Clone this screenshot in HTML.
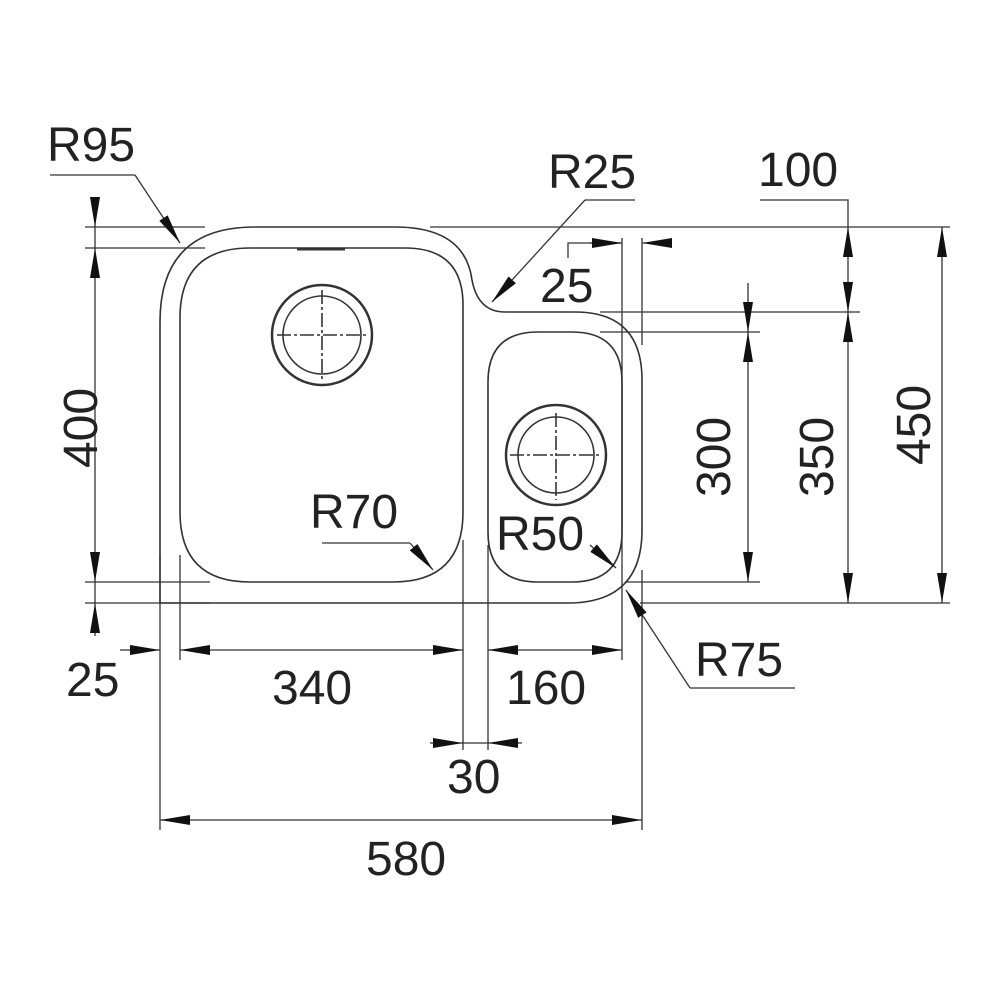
<!DOCTYPE html><html><head><style>body{margin:0;background:#fff}svg{display:block}text{font-family:"Liberation Sans",sans-serif;font-size:48px;fill:#222}</style></head><body>
<svg width="1000" height="1000" viewBox="0 0 1000 1000">
<defs><marker id="a" viewBox="0 0 30 10" refX="30" refY="5" markerWidth="30" markerHeight="10" markerUnits="userSpaceOnUse" orient="auto"><path d="M0,0L30,5L0,10z" fill="#111"/></marker>
<marker id="b" viewBox="0 0 30 10" refX="0" refY="5" markerWidth="30" markerHeight="10" markerUnits="userSpaceOnUse" orient="auto"><path d="M30,0L0,5L30,10z" fill="#111"/></marker></defs>
<g fill="none" stroke="#333" stroke-width="1.6">
<path d="M160,603 L160,322 Q160,227 255,227 L395,227 Q465,227 472,280 Q478,312 505,312 L575,312 Q642,312 642,380 L642,530 Q642,603 568,603 Z"/>
<path d="M180,318 Q180,248 250,248 L405,248 Q463,248 463,305 L463,512 Q463,582 393,582 L250,582 Q180,582 180,512 Z"/>
<path d="M488,382 Q488,332 538,332 L572,332 Q622,332 622,382 L622,532 Q622,582 572,582 L538,582 Q488,582 488,532 Z"/>
<path d="M297,249 L345,249" stroke-width="3"/>
<circle cx="322" cy="335" r="50" stroke-width="2.5"/><circle cx="322" cy="335" r="39"/>
<circle cx="556" cy="455" r="50" stroke-width="2.5"/><circle cx="556" cy="455" r="38"/>
<path d="M277,335H367M322,290V380M510,455H602M556,413V500" stroke-dasharray="14,3,3,3"/>
</g>
<g fill="none" stroke="#333" stroke-width="1.3">
<path d="M85,227H205M85,248H205M85,582H210M85,603H210M430,227H950M600,312H860M600,332H760M625,582H760M640,603H950"/>
<path d="M160,555V830M180,555V660M463,540V750M488,545V750M622,238V660M642,238V345M642,570V830"/>
<line x1="95" y1="197" x2="95" y2="227" marker-end="url(#a)"/>
<line x1="95" y1="248" x2="95" y2="582" marker-start="url(#b)" marker-end="url(#a)"/>
<line x1="95" y1="636" x2="95" y2="603" marker-end="url(#a)"/>
<line x1="95" y1="227" x2="95" y2="248"/><line x1="95" y1="582" x2="95" y2="603"/>
<line x1="120" y1="650" x2="160" y2="650" marker-end="url(#a)"/>
<line x1="180" y1="650" x2="463" y2="650" marker-start="url(#b)" marker-end="url(#a)"/>
<line x1="488" y1="650" x2="622" y2="650" marker-start="url(#b)" marker-end="url(#a)"/>
<line x1="430" y1="743" x2="463" y2="743" marker-end="url(#a)"/>
<line x1="522" y1="743" x2="488" y2="743" marker-end="url(#a)"/>
<line x1="463" y1="743" x2="488" y2="743"/>
<line x1="160" y1="820" x2="642" y2="820" marker-start="url(#b)" marker-end="url(#a)"/>
<path d="M568,258V243H622"/>
<line x1="590" y1="243" x2="622" y2="243" marker-end="url(#a)"/>
<line x1="672" y1="243" x2="642" y2="243" marker-end="url(#a)"/>
<line x1="748" y1="283" x2="748" y2="332" marker-end="url(#a)"/>
<line x1="748" y1="332" x2="748" y2="582" marker-start="url(#b)" marker-end="url(#a)"/>
<path d="M760,200H848V227"/>
<line x1="848" y1="227" x2="848" y2="312" marker-start="url(#b)" marker-end="url(#a)"/>
<line x1="848" y1="312" x2="848" y2="603" marker-start="url(#b)" marker-end="url(#a)"/>
<line x1="942" y1="227" x2="942" y2="603" marker-start="url(#b)" marker-end="url(#a)"/>
<path d="M50,175H135"/><line x1="135" y1="175" x2="180" y2="243" marker-end="url(#a)"/>
<path d="M635,200H585"/><line x1="585" y1="200" x2="492" y2="302" marker-end="url(#a)"/>
<path d="M322,543H410"/><line x1="410" y1="543" x2="433" y2="570" marker-end="url(#a)"/>
<line x1="590" y1="545" x2="616" y2="568" marker-end="url(#a)"/>
<path d="M795,688H690"/><line x1="690" y1="688" x2="626" y2="590" marker-end="url(#a)"/>
</g>
<text x="47" y="161">R95</text><text x="548" y="188">R25</text><text x="758" y="186">100</text>
<text x="540" y="302">25</text><text x="310" y="528">R70</text><text x="496" y="550">R50</text>
<text x="695" y="676">R75</text><text x="66" y="696">25</text><text x="272" y="704">340</text>
<text x="506" y="704">160</text><text x="447" y="793">30</text><text x="366" y="875">580</text>
<text transform="translate(97,428) rotate(-90)" text-anchor="middle">400</text>
<text transform="translate(730,457) rotate(-90)" text-anchor="middle">300</text>
<text transform="translate(833,457) rotate(-90)" text-anchor="middle">350</text>
<text transform="translate(930,425) rotate(-90)" text-anchor="middle">450</text>
</svg></body></html>
